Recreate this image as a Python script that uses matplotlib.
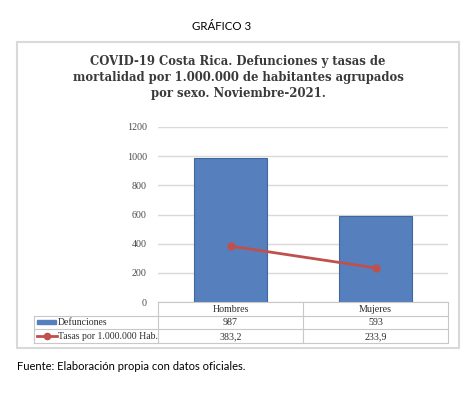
import matplotlib
matplotlib.use("Agg")
import matplotlib.pyplot as plt
from matplotlib.lines import Line2D
from matplotlib.patches import Rectangle

categorias = ["Hombres", "Mujeres"]
defunciones = [987, 593]
tasas = [383.2, 233.9]
tasas_txt = ["383,2", "233,9"]
series = ["Defunciones", "Tasas por 1.000.000 Hab."]
y_ticks = [0, 200, 400, 600, 800, 1000, 1200]

titulo = ("COVID-19 Costa Rica. Defunciones y tasas de\n"
          "mortalidad por 1.000.000 de habitantes agrupados\n"
          "por sexo. Noviembre-2021.")

W, H = 475, 397
AZUL = "#5580BD"
ROJO = "#C0504D"
GRIS = "#D9D9D9"
BORDE_TABLA = "#C8C8C8"
TXT = "#2E2E2E"
SERIF = "Liberation Serif"


def px(x, y):
    # pixeles (origen arriba a la izquierda) -> fraccion de figura
    return x / W, 1 - y / H


fig = plt.figure(figsize=(W / 100, H / 100), dpi=100)

fig.text(*px(222, 27), "GRÁFICO 3", ha="center", va="center",
         family="Lato", fontsize=8.3, color="black")

# marco del grafico
marco = Rectangle(px(17, 348), (459 - 17) / W, (348 - 42) / H,
                  transform=fig.transFigure, fill=False,
                  edgecolor=GRIS, lw=1.5)
fig.patches.append(marco)

fig.text(*px(238, 78), titulo, ha="center", va="center", family="DejaVu Serif",
         weight="bold", fontsize=8.4, color="#3A3A3A", linespacing=1.3)

x0, x1, ytop, ybot = 158, 448, 127, 302
ax = fig.add_axes([x0 / W, 1 - ybot / H, (x1 - x0) / W, (ybot - ytop) / H])
xs = list(range(len(categorias)))
ax.bar(xs, defunciones, width=0.51, color=AZUL, edgecolor="#41679F",
       lw=0.8, zorder=2)
ax.plot(xs, tasas, color=ROJO, lw=2, marker="o", ms=5, zorder=3)
ax.set_xlim(-0.5, len(categorias) - 0.5)
ax.set_ylim(0, 1200)
ax.set_yticks(y_ticks)
ax.set_yticklabels([str(t) for t in y_ticks], family=SERIF, fontsize=7.2,
                   color="#4A4A4A")
ax.tick_params(axis="y", length=0, pad=8)
ax.set_xticks([])
ax.grid(axis="y", color=GRIS, lw=1, zorder=0)
for s in ["top", "right", "left"]:
    ax.spines[s].set_visible(False)
ax.spines["bottom"].set_color(BORDE_TABLA)
ax.spines["bottom"].set_linewidth(0.8)

# tabla de datos debajo del eje
filas_y = [302, 315.5, 329, 343]
col_x = [34, 158, 303, 448]


def linea(xa, ya, xb, yb):
    fig.add_artist(Line2D([xa / W, xb / W], [1 - ya / H, 1 - yb / H],
                          transform=fig.transFigure, color=BORDE_TABLA,
                          lw=0.8))


linea(col_x[1], filas_y[0], col_x[1], filas_y[3])
linea(col_x[2], filas_y[0], col_x[2], filas_y[3])
linea(col_x[3], filas_y[0], col_x[3], filas_y[3])
linea(col_x[0], filas_y[1], col_x[0], filas_y[3])
linea(col_x[0], filas_y[1], col_x[3], filas_y[1])
linea(col_x[0], filas_y[2], col_x[3], filas_y[2])
linea(col_x[0], filas_y[3], col_x[3], filas_y[3])

valores = [[str(v) for v in defunciones], tasas_txt]
for j, cat in enumerate(categorias):
    cx = (col_x[j + 1] + col_x[j + 2]) / 2
    fig.text(*px(cx, (filas_y[0] + filas_y[1]) / 2 + 0.5), cat,
             ha="center", va="center", family=SERIF, fontsize=7.2, color=TXT)
    for i in range(len(series)):
        cy = (filas_y[i + 1] + filas_y[i + 2]) / 2 + 0.5
        fig.text(*px(cx, cy), valores[i][j], ha="center", va="center",
                 family=SERIF, fontsize=7.2, color=TXT)

for i, nombre in enumerate(series):
    cy = (filas_y[i + 1] + filas_y[i + 2]) / 2
    fig.text(*px(58, cy + 0.5), nombre, ha="left", va="center",
             family=SERIF, fontsize=7, color=TXT)
key_bar = Rectangle(px(37, (filas_y[1] + filas_y[2]) / 2 + 2), 19 / W, 4 / H,
                    transform=fig.transFigure, color=AZUL)
fig.patches.append(key_bar)
cy = 1 - ((filas_y[2] + filas_y[3]) / 2) / H
fig.add_artist(Line2D([37 / W, 57 / W], [cy, cy], transform=fig.transFigure,
                      color=ROJO, lw=2))
fig.add_artist(Line2D([47 / W], [cy], transform=fig.transFigure, color=ROJO,
                      marker="o", ms=4.5))

fig.text(*px(17, 367), "Fuente: Elaboración propia con datos oficiales.",
         ha="left", va="center", family="Lato", fontsize=8, color="black")

fig.savefig("out.png", dpi=100)
